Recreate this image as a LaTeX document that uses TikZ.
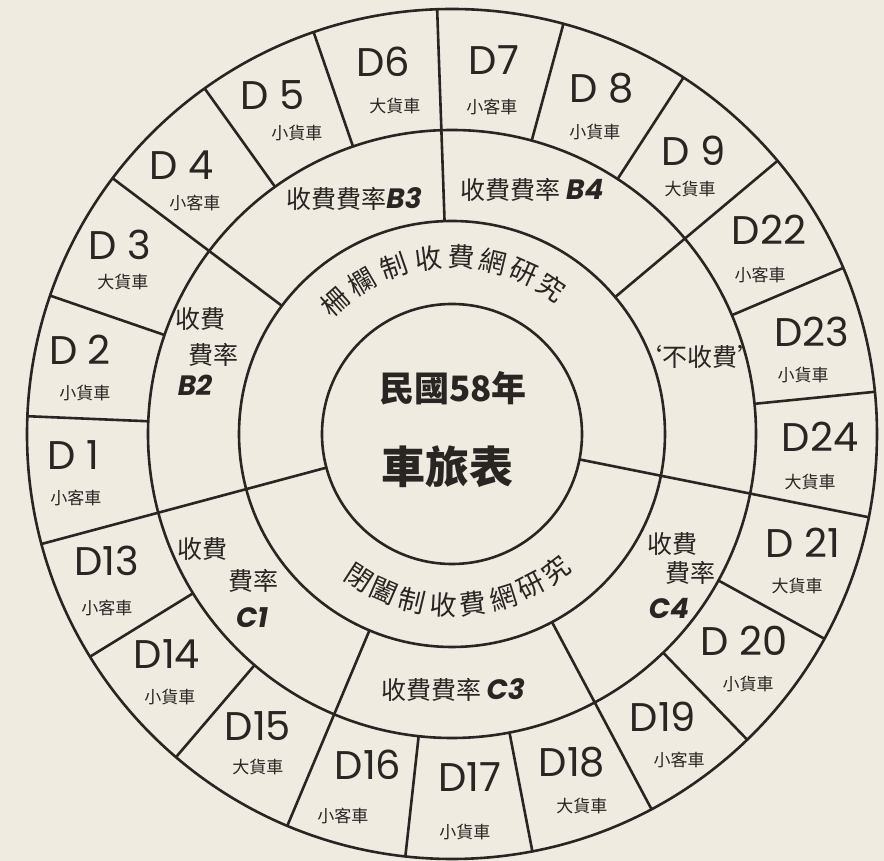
\documentclass[tikz,border=0pt]{standalone}
\usepackage{fontspec}
\setmainfont{Poppins}
\newfontfamily\cjk{Noto Sans CJK TC}
\usetikzlibrary{positioning}
\definecolor{paper}{RGB}{239,235,224}
\definecolor{ink}{RGB}{40,37,34}
\newcommand{\tagfont}{\rmfamily\bfseries\itshape\fontsize{14}{14}\selectfont}
\tikzset{every path/.style={ink, line width=1.3pt}, every node/.style={text=ink, inner sep=0pt},
  dlab/.style={font=\fontsize{20}{20}\selectfont},
  vtype/.style={font=\cjk\fontsize{8.5}{9}\selectfont},
  rate/.style={font=\cjk\fontsize{12.5}{13}\selectfont, align=center},
  arcch/.style={font=\cjk\fontsize{13.5}{13.5}\selectfont}}

\begin{document}
\begin{tikzpicture}[x=0.5pt,y=0.5pt]
  \fill[paper] (-452,-427) rectangle (432,434);
  \useasboundingbox (-452,-427) rectangle (432,434);
  % rings
  \draw (0,0) circle[radius=130];
  \draw (0,0) circle[radius=213];
  \draw (0,0) circle[radius=304];
  \draw (0,0) circle[radius=425];
  % dividers
  \draw (195:130) -- (195:425);
  \draw (-11.3:130) -- (-11.3:425);
  \draw (143:213) -- (143:425);
  \draw (92:213) -- (92:425);
  \draw (40:213) -- (40:425);
  \draw (-62:213) -- (-62:425);
  \draw (-112.8:213) -- (-112.8:425);
  \draw (177.6:304) -- (177.6:425);
  \draw (161:304) -- (161:425);
  \draw (125.6:304) -- (125.6:425);
  \draw (109:304) -- (109:425);
  \draw (74.8:304) -- (74.8:425);
  \draw (57:304) -- (57:425);
  \draw (23:304) -- (23:425);
  \draw (5.7:304) -- (5.7:425);
  \draw (-28.8:304) -- (-28.8:425);
  \draw (-46:304) -- (-46:425);
  \draw (-79.1:304) -- (-79.1:425);
  \draw (-96.3:304) -- (-96.3:425);
  \draw (-130.5:304) -- (-130.5:425);
  \draw (-148.4:304) -- (-148.4:425);
  % centre
  \node[font=\cjk\bfseries\fontsize{17.5}{18}\selectfont] (year) at (1,46) {民國58年};
  \node[font=\cjk\bfseries\fontsize{22}{22}\selectfont] (title) at (-4,-33) {車旅表};
  % ring texts
  \foreach \a/\c [count=\i] in {131.5/柵,120.5/欄,109/制,97.5/收,87/費,76.5/網,66/研,56/究}
    \node[arcch, rotate=\a-90] (open\i) at (\a:177) {\c};
  \foreach \a/\c [count=\i] in {237/閉,246.5/闔,256.5/制,267/收,277/費,287.3/網,297.5/研,307.5/究}
    \node[arcch, rotate=\a+90] (closed\i) at (\a:171) {\c};
  % rates
  \node[rate] (b2a) at (-251,115) {收費};
  \node[rate] (b2b) at (-238,79) {費率};
  \node[font=\tagfont] (b2) at (-257,49) {B2};
  \node[rate] (b3) at (-98,235) {收費費率{\tagfont B3}};
  \node[rate] (b4) at (80,244) {收費費率\ {\tagfont B4}};
  \node[rate] (free) at (248,77) {‘不收費’};
  \node[rate] (c1a) at (-249,-115) {收費};
  \node[rate] (c1b) at (-198,-147) {費率};
  \node[font=\tagfont] (c1) at (-200,-184) {C1};
  \node[rate] (c3) at (1,-256) {收費費率\ {\tagfont C3}};
  \node[rate] (c4a) at (220,-110) {收費};
  \node[rate] (c4b) at (238,-139) {費率};
  \node[font=\tagfont] (c4) at (217,-174) {C4};
  % vehicle cells
  \node[dlab] (d1) at (-379,-21) {D 1};     \node[vtype] (d1t) at (-376,-64) {小客車};
  \node[dlab] (d2) at (-372,84) {D 2};      \node[vtype] (d2t) at (-367,41) {小貨車};
  \node[dlab] (d3) at (-332,189) {D 3};     \node[vtype] (d3t) at (-329,152) {大貨車};
  \node[dlab] (d4) at (-270,269) {D 4};     \node[vtype] (d4t) at (-257,231) {小客車};
  \node[dlab] (d5) at (-179,339) {D 5};     \node[vtype] (d5t) at (-155,301) {小貨車};
  \node[dlab] (d6) at (-69,372) {D6};       \node[vtype] (d6t) at (-57,328) {大貨車};
  \node[dlab] (d7) at (42,374) {D7};        \node[vtype] (d7t) at (40,327) {小客車};
  \node[dlab] (d8) at (150,346) {D 8};      \node[vtype] (d8t) at (143,302) {小貨車};
  \node[dlab] (d9) at (242,283) {D 9};      \node[vtype] (d9t) at (238,245) {大貨車};
  \node[dlab] (d22) at (317,204) {D22};     \node[vtype] (d22t) at (308,159) {小客車};
  \node[dlab] (d23) at (360,102) {D23};     \node[vtype] (d23t) at (351,59) {小貨車};
  \node[dlab] (d24) at (368,-3) {D24};      \node[vtype] (d24t) at (358,-48) {大貨車};
  \node[dlab] (d21) at (351,-109) {D 21};   \node[vtype] (d21t) at (345,-152) {大貨車};
  \node[dlab] (d20) at (292,-207) {D 20};   \node[vtype] (d20t) at (296,-250) {小貨車};
  \node[dlab] (d19) at (211,-283) {D19};    \node[vtype] (d19t) at (227,-326) {小客車};
  \node[dlab] (d18) at (120,-328) {D18};    \node[vtype] (d18t) at (130,-372) {大貨車};
  \node[dlab] (d17) at (18,-343) {D17};     \node[vtype] (d17t) at (13,-398) {小貨車};
  \node[dlab] (d16) at (-84,-331) {D16};    \node[vtype] (d16t) at (-109,-382) {小客車};
  \node[dlab] (d15) at (-194,-292) {D15};   \node[vtype] (d15t) at (-194,-333) {大貨車};
  \node[dlab] (d14) at (-285,-220) {D14};   \node[vtype] (d14t) at (-282,-263) {小貨車};
  \node[dlab] (d13) at (-345,-127) {D13};   \node[vtype] (d13t) at (-345,-174) {小客車};
\end{tikzpicture}
\end{document}
